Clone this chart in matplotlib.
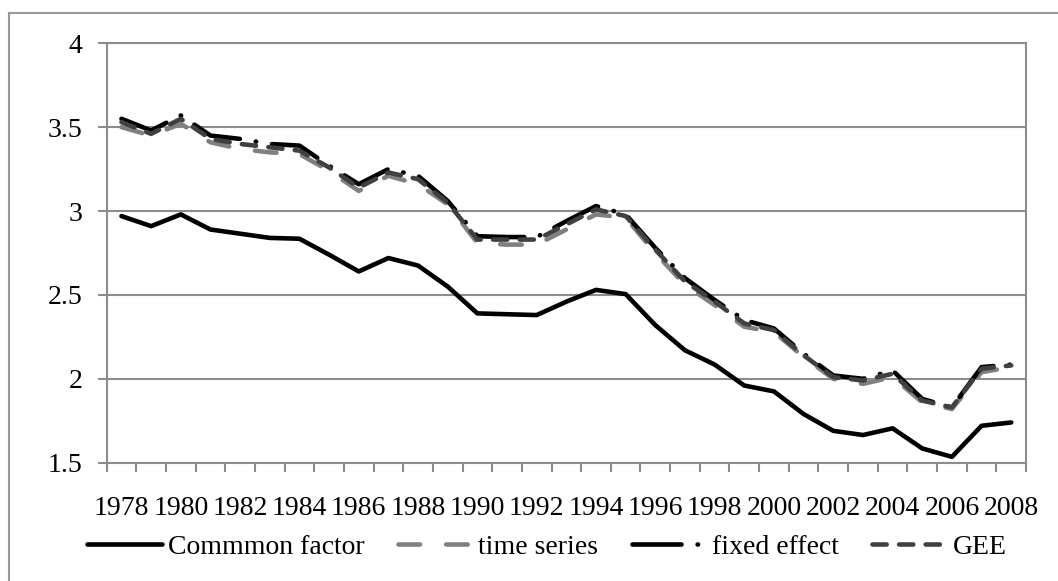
import matplotlib
matplotlib.use('Agg')
import matplotlib.pyplot as plt
from matplotlib.lines import Line2D

years = list(range(1978, 2009))

common_factor = [2.97, 2.91, 2.98, 2.89, 2.865, 2.84, 2.835, 2.74, 2.64, 2.72, 2.675,
                 2.55, 2.39, 2.385, 2.38, 2.46, 2.53, 2.505, 2.32, 2.17, 2.085,
                 1.96, 1.925, 1.79, 1.69, 1.665, 1.705, 1.585, 1.535, 1.72, 1.74]
time_series = [3.50, 3.45, 3.52, 3.41, 3.37, 3.35, 3.34, 3.24, 3.12, 3.21, 3.16,
               3.04, 2.81, 2.80, 2.80, 2.89, 2.98, 2.96, 2.75, 2.56, 2.44,
               2.31, 2.28, 2.13, 2.00, 1.97, 2.01, 1.86, 1.82, 2.04, 2.07]
fixed_effect = [3.55, 3.48, 3.57, 3.45, 3.43, 3.40, 3.39, 3.27, 3.16, 3.25, 3.21,
                3.06, 2.85, 2.845, 2.845, 2.94, 3.03, 2.98, 2.78, 2.60, 2.47,
                2.35, 2.30, 2.15, 2.02, 2.00, 2.05, 1.88, 1.83, 2.07, 2.085]
gee = [3.53, 3.46, 3.55, 3.43, 3.40, 3.38, 3.36, 3.26, 3.14, 3.23, 3.19,
       3.05, 2.83, 2.83, 2.83, 2.92, 3.01, 2.97, 2.77, 2.58, 2.46,
       2.33, 2.29, 2.14, 2.01, 1.99, 2.03, 1.87, 1.83, 2.06, 2.08]

y_ticks = [1.5, 2, 2.5, 3, 3.5, 4]
y_labels = ['1.5', '2', '2.5', '3', '3.5', '4']

plt.rcParams['font.family'] = ['Liberation Serif', 'DejaVu Serif']
fs = 20
gray = '#8c8c8c'
lw = 3.3

fig = plt.figure(figsize=(10.58, 5.81), dpi=100)
ax = fig.add_axes([0.1008, 0.2036, 0.869, 0.7219])

x = list(range(len(years)))
ax.plot(x, common_factor, color='black', lw=lw, solid_capstyle='round',
        solid_joinstyle='round', label='Commmon factor')
ax.plot(x, time_series, color='#808080', lw=lw, dashes=(4.7, 5.7),
        dash_capstyle='round', label='time series')
ax.plot(x, fixed_effect, color='black', lw=lw, dashes=(10.7, 3.5, 0.1, 3.5),
        dash_capstyle='round', label='fixed effect')
ax.plot(x, gee, color='#404040', lw=lw, dashes=(3.1, 2.7),
        dash_capstyle='round', label='GEE')

ax.set_xlim(-0.5, len(years) - 0.5)
ax.set_ylim(1.5, 4)
ax.set_yticks(y_ticks)
ax.set_yticklabels(y_labels, fontsize=fs)
ax.set_xticks(x[::2])
ax.set_xticklabels([str(y) for y in years[::2]], fontsize=fs)
ax.set_xticks([i - 0.5 for i in range(len(years) + 1)], minor=True)
ax.tick_params(axis='x', which='major', length=0, pad=24)
ax.tick_params(axis='x', which='minor', length=6.5, width=1.5, color=gray, direction='out')
ax.tick_params(axis='y', which='major', length=6.5, width=1.5, color=gray, direction='out', pad=11)
ax.yaxis.grid(True, color=gray, lw=1.5)
ax.set_axisbelow(True)
for s in ax.spines.values():
    s.set_color(gray)
    s.set_linewidth(1.5)

handles = [
    Line2D([0], [0], color='black', lw=lw, solid_capstyle='round'),
    Line2D([0], [0], color='#808080', lw=lw, dashes=(4.7, 5.7), dash_capstyle='round'),
    Line2D([0], [0], color='black', lw=lw, dashes=(10.7, 3.5, 0.1, 3.5), dash_capstyle='round'),
    Line2D([0], [0], color='#404040', lw=lw, dashes=(3.1, 2.7), dash_capstyle='round'),
]
labels = ['Commmon factor', 'time series', 'fixed effect', 'GEE']
fig.legend(handles, labels, loc='center', bbox_to_anchor=(0.517, 1 - 547 / 581), ncol=4,
           frameon=False, fontsize=fs, handlelength=2.7, handletextpad=0.2,
           columnspacing=1.2, borderaxespad=0)

# outer chart border (left and top only visible)
fig.add_artist(Line2D([9 / 1058, 9 / 1058], [0, 1 - 13 / 581], color='#999999', lw=1.5,
                      transform=fig.transFigure))
fig.add_artist(Line2D([9 / 1058, 1], [1 - 13 / 581, 1 - 13 / 581], color='#999999', lw=1.5,
                      transform=fig.transFigure))

plt.savefig('out.png', dpi=100)
